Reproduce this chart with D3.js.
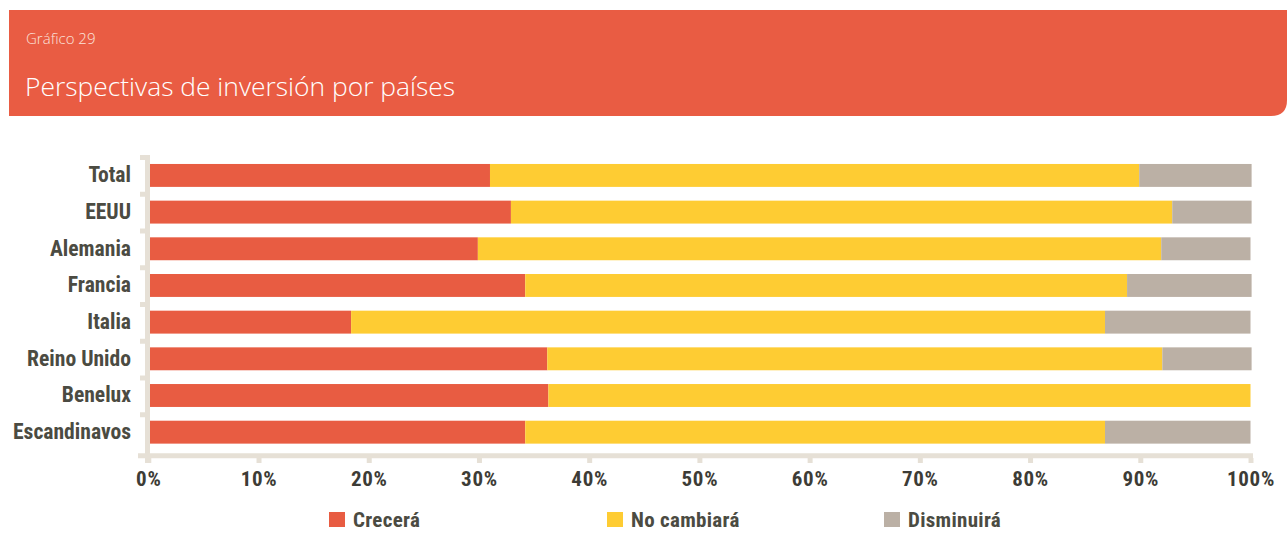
<!DOCTYPE html>
<html>
<head>
<meta charset="utf-8">
<script src="https://cdn.jsdelivr.net/npm/d3@7"></script>
<style>
  html, body { margin: 0; padding: 0; background: #ffffff; }
  svg { display: block; }
</style>
</head>
<body>
<svg id="chart" width="1287" height="542"></svg>
<script>
const categories = ["Total", "EEUU", "Alemania", "Francia", "Italia", "Reino Unido", "Benelux", "Escandinavos"];
const crecera    = [31.0, 32.9, 29.9, 34.2, 18.4, 36.2, 36.3, 34.2];
const noCambiara = [58.9, 60.0, 62.0, 54.6, 68.4, 55.8, 63.7, 52.6];
const disminuira = [10.2, 7.2, 8.1, 11.3, 13.2, 8.1, 0.0, 13.2];
const seriesNames = ["Crecerá", "No cambiará", "Disminuirá"];
const xTicks = [0, 10, 20, 30, 40, 50, 60, 70, 80, 90, 100];
const colors = ["#E85C42", "#FECC33", "#BBB0A5"];

const svg = d3.select("#chart");
const W = 1287, H = 542;
const labelFont = "'Liberation Sans Narrow', 'Roboto Condensed', 'DejaVu Sans Condensed', sans-serif";
const textCol = "#4B4B42";
const axisCol = "#E6E0D6";

// header band
const hx = 9, hy = 10, hw = W - 9, hh = 106, r = 16;
svg.append("path")
  .attr("d", `M${hx},${hy} H${hx+hw} V${hy+hh-r} Q${hx+hw},${hy+hh} ${hx+hw-r},${hy+hh} H${hx} Z`)
  .attr("fill", "#E95C43");
svg.append("text").attr("x", 26).attr("y", 44)
  .attr("font-family", "'Open Sans', sans-serif").attr("font-weight", 300)
  .attr("font-size", 15).attr("fill", "#FBE3DC").text("Gráfico 29");
svg.append("text").attr("x", 25).attr("y", 96)
  .attr("font-family", "'Open Sans', sans-serif").attr("font-weight", 300)
  .attr("font-size", 26.4).attr("fill", "#FFFFFF").text("Perspectivas de inversión por países");

// data rows
const rows = categories.map((c, i) => ({cat: c, "Crecerá": crecera[i], "No cambiará": noCambiara[i], "Disminuirá": disminuira[i]}));
const stack = d3.stack().keys(seriesNames)(rows);

const x = d3.scaleLinear().domain([0, 100]).range([148.3, 1250.5]);
const y = d3.scaleBand().domain(categories).range([157, 450.6]).paddingInner(0.375).paddingOuter(0.19);

// bars
svg.append("g").selectAll("g").data(stack).join("g")
  .attr("fill", (d, i) => colors[i])
  .selectAll("rect").data(d => d.map(v => ({v, cat: v.data.cat}))).join("rect")
  .attr("x", d => x(d.v[0]))
  .attr("y", d => y(d.cat))
  .attr("width", d => Math.max(0, x(d.v[1]) - x(d.v[0])))
  .attr("height", y.bandwidth());

// y axis line and ticks
const yTop = 155;
svg.append("line").attr("x1", 147.5).attr("x2", 147.5).attr("y1", yTop).attr("y2", 463)
  .attr("stroke", axisCol).attr("stroke-width", 5);
const yTickPos = d3.range(categories.length).map(i => yTop + 2.5 + i * 36.75);
svg.append("g").selectAll("line").data(yTickPos).join("line")
  .attr("x1", 140).attr("x2", 148).attr("y1", d => d).attr("y2", d => d)
  .attr("stroke", axisCol).attr("stroke-width", 5);

// y labels
svg.append("g").selectAll("text").data(categories).join("text")
  .attr("x", 131).attr("y", d => y(d) + y.bandwidth() / 2 + 7)
  .attr("text-anchor", "end")
  .attr("font-family", labelFont).attr("font-weight", 700).attr("font-size", 21.6)
  .attr("fill", textCol).text(d => d);

// x axis
svg.append("line").attr("x1", 138).attr("x2", 1253).attr("y1", 455.8).attr("y2", 455.8)
  .attr("stroke", axisCol).attr("stroke-width", 5);
const xAxis = d3.axisBottom(x).tickValues(xTicks).tickSize(0).tickFormat(d => d + "%");
const gx = svg.append("g").attr("transform", "translate(0,458)").call(xAxis);
gx.select(".domain").remove();
gx.selectAll(".tick").append("line")
  .attr("y1", 0).attr("y2", 5).attr("stroke", axisCol).attr("stroke-width", 5);
gx.selectAll(".tick text")
  .attr("y", 28).attr("dy", null)
  .attr("font-family", labelFont).attr("font-weight", 700).attr("font-size", 21)
  .attr("letter-spacing", 0.7)
  .attr("fill", "#3D3C36");

// legend
const legendX = [329, 607, 884];
const lg = svg.append("g").selectAll("g").data(seriesNames).join("g")
  .attr("transform", (d, i) => `translate(${legendX[i]},512)`);
lg.append("rect").attr("width", 16).attr("height", 15).attr("fill", (d, i) => colors[i]);
lg.append("text").attr("x", 24).attr("y", 15)
  .attr("font-family", labelFont).attr("font-weight", 700).attr("font-size", 21)
  .attr("letter-spacing", 0.3)
  .attr("fill", textCol).text(d => d);
</script>
</body>
</html>
